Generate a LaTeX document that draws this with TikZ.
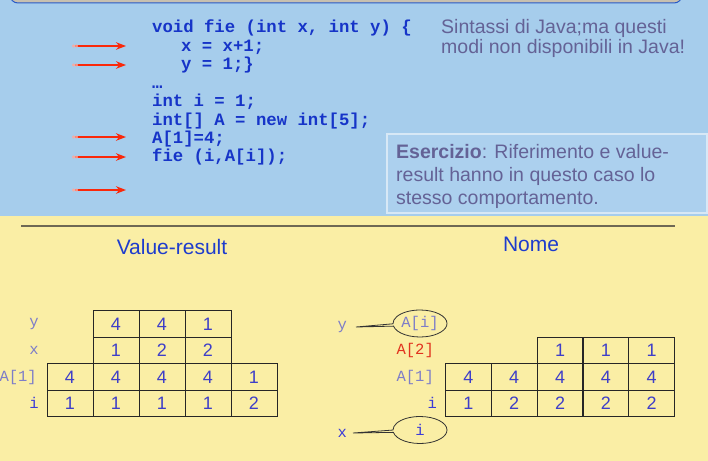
\documentclass[tikz,border=0pt]{standalone}
\usepackage{fontspec}
\setmainfont{Liberation Sans}
\newfontfamily\monofont{Liberation Mono}
\usetikzlibrary{positioning,arrows.meta,shapes.geometric,shapes.callouts}
\definecolor{topblue}{RGB}{166,205,236}
\definecolor{midblue}{RGB}{152,186,214}
\definecolor{yellowbg}{RGB}{250,238,165}
\definecolor{midyellow}{RGB}{240,229,162}
\definecolor{codeblue}{RGB}{22,52,200}
\definecolor{notegray}{RGB}{100,98,150}
\definecolor{titleblue}{RGB}{30,60,205}
\definecolor{numblue}{RGB}{62,62,200}
\definecolor{labgray}{RGB}{125,125,200}
\definecolor{labblue}{RGB}{60,60,215}
\definecolor{labred}{RGB}{225,50,30}
\definecolor{arrowred}{RGB}{250,40,10}
\definecolor{boxtan}{RGB}{200,192,176}
\definecolor{boxblue}{RGB}{40,90,200}
\definecolor{rulegray}{RGB}{110,104,84}
\definecolor{exfill}{RGB}{172,208,238}
\definecolor{exline}{RGB}{215,232,246}
\tikzset{
  code/.style={anchor=base west, inner sep=0pt, text=codeblue,
    font=\monofont\bfseries\fontsize{17.3}{18}\selectfont},
  note/.style={anchor=north west, inner sep=0pt, align=left, text=notegray,
    font=\fontsize{19.5}{20}\selectfont},
  heading/.style={text=titleblue, font=\fontsize{21}{24}\selectfont},
  cell/.style={draw=black!85, line width=0.9pt, minimum width=46pt,
    minimum height=26.3pt, inner sep=0pt, text=numblue,
    font=\fontsize{18}{20}\selectfont},
  lab/.style={anchor=east, inner sep=0pt, text=labgray,
    font=\monofont\fontsize{15.5}{16}\selectfont},
  redarrow/.style={draw=arrowred, line width=2.6pt,
    {Circle[open,length=3pt,width=3pt,line width=0.7pt,color=arrowred!40] Circle[open,length=3pt,width=3pt,line width=0.7pt,color=arrowred!40]}-{Stealth[length=10pt,width=7.5pt]}},
  bubble/.style={ellipse callout, draw=black!80, line width=0.8pt,
    minimum width=54pt, minimum height=27pt, inner sep=0pt,
    callout pointer arc=10, font=\monofont\fontsize{15.5}{16}\selectfont},
}
\begin{document}
\begin{tikzpicture}[x=1pt,y=-1pt]
  \useasboundingbox (0,0) rectangle (708,460);
  \clip (0,0) rectangle (708,460);
  % backgrounds
  \shade[left color=topblue, middle color=midblue, right color=topblue] (0,0) rectangle (708,216);
  \shade[left color=yellowbg, middle color=midyellow, right color=yellowbg] (0,216) rectangle (708,460);
  \draw[boxblue, fill=boxtan, line width=1pt, rounded corners=8pt] (10,-20) rectangle (682,3);

  % code
  \node[code] (c1) at (152,33) {void fie (int x, int y) \{};
  \node[code] (c2) at (181,51.4) {x = x+1;};
  \node[code] (c3) at (181,69.8) {y = 1;\}};
  \node[code] (c4) at (152,88.2) {\char"2026};
  \node[code] (c5) at (152,106.6) {int i = 1;};
  \node[code] (c6) at (152,125) {int[] A = new int[5];};
  \node[code] (c7) at (152,143.4) {A[1]=4;};
  \node[code] (c8) at (152,161.8) {fie (i,A[i]);};

  \foreach \yy [count=\k] in {46,65,137,157,190} {
    \coordinate (as\k) at (72,\yy);
    \coordinate (ae\k) at (126,\yy);
    \draw[redarrow] (as\k) -- (ae\k);
  }

  \node[note] (n1) at (441,19) {Sintassi di Java;ma questi\\modi non disponibili in Java!};
  \node[draw=exline, fill=exfill, line width=1.2pt, minimum width=320pt,
    minimum height=79pt] (ex) at (547,173.5) {};
  \node[note, font=\fontsize{19.5}{23.3}\selectfont] (ext) at (396,143.8)
    {\textbf{Esercizio}: Riferimento e value-\\result hanno in questo caso lo\\stesso comportamento.};

  \coordinate (r1) at (21,226);
  \coordinate (r2) at (675,226);
  \draw[rulegray, line width=1.4pt] (r1) -- (r2);

  % value-result
  \node[heading] (vr) at (172,247) {Value-result};
  \foreach \v [count=\c] in {4,4,1} \node[cell] (vy\c) at ({70+46*\c},324) {\v};
  \foreach \v [count=\c] in {1,2,2} \node[cell] (vx\c) at ({70+46*\c},350.5) {\v};
  \foreach \v [count=\c] in {4,4,4,4,1} \node[cell] (va\c) at ({24+46*\c},377) {\v};
  \foreach \v [count=\c] in {1,1,1,1,2} \node[cell] (vi\c) at ({24+46*\c},403.3) {\v};
  \node[lab] (vly) at (39,324) {y};
  \node[lab] (vlx) at (39,350.5) {x};
  \node[lab] (vla) at (37,377) {A[1]};
  \node[lab, text=labblue] (vli) at (39,403.3) {i};

  % nome
  \node[heading] (nm) at (531,244) {Nome};
  \foreach \v [count=\c from 3] in {1,1,1} \node[cell] (na2\c) at ({422.6+45.8*\c},350.5) {\v};
  \foreach \v [count=\c] in {4,4,4,4,4} \node[cell] (na\c) at ({422.6+45.8*\c},377) {\v};
  \foreach \v [count=\c] in {1,2,2,2,2} \node[cell] (ni\c) at ({422.6+45.8*\c},403.3) {\v};
  \node[lab, text=labred] (nla2) at (434,350.5) {A[2]};
  \node[lab] (nla) at (434,377) {A[1]};
  \node[lab, text=labblue] (nli) at (437,403.3) {i};
  \node[lab] (ny) at (347,327) {y};
  \node[lab, text=labblue] (nx) at (347,433) {x};
  \node[bubble, text=labgray, callout absolute pointer={([xshift=9pt]ny.east)}] (nai) at (420,323.5) {A[i]};
  \node[bubble, text=labblue, callout absolute pointer={([xshift=6pt]nx.east)}] (nii) at (420,430) {i};
\end{tikzpicture}
\end{document}
